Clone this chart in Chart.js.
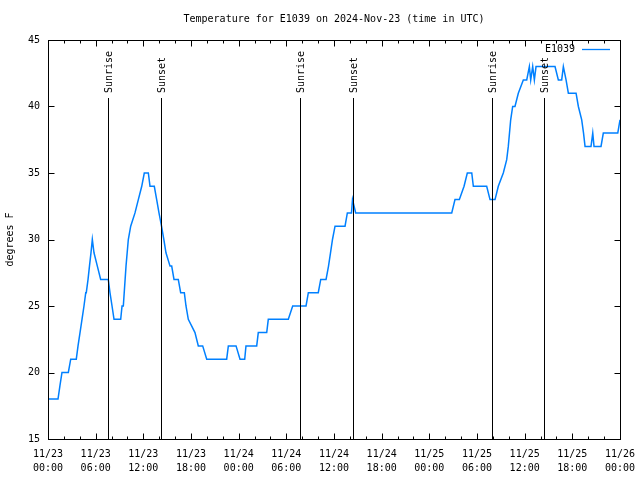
<!DOCTYPE html>
<html>
<head>
<meta charset="utf-8">
<script src="https://cdn.jsdelivr.net/npm/chart.js@4.4.1/dist/chart.umd.min.js"></script>
<style>
  html, body { margin: 0; padding: 0; background: #fff; }
  canvas { display: block; }
</style>
</head>
<body>
<canvas id="tempChart" width="640" height="480"></canvas>
<script>
// hours since 11/23 00:00 UTC, and temperature
var hours = [0, 1.26, 1.5, 1.76, 2.56, 2.86, 3.56, 3.78, 4.03, 4.28, 4.53, 4.75, 4.82, 5.04, 5.22, 5.41, 5.58, 5.79, 6.21, 6.63,
  7.59, 7.8, 8.06, 8.31, 9.15, 9.32, 9.48, 9.82, 10.11, 10.41, 10.95, 11.37, 11.8, 12.12, 12.63, 12.84, 13.38, 13.68, 13.97, 14.29,
  14.58, 14.85, 15.36, 15.57, 15.86, 16.4, 16.7, 17.16, 17.37, 17.66, 18.5, 18.92, 19.47, 19.98, 22.49, 22.7, 23.67, 24.17, 24.76, 24.92,
  26.27, 26.47, 27.53, 27.73, 30.25, 30.8, 32.48, 32.77, 34.02, 34.33, 35.0, 35.31, 35.56, 35.81, 36.13, 37.39, 37.68, 38.2, 38.33, 38.73,
  50.82, 51.23, 51.78, 52.37, 52.78, 53.34, 53.54, 55.22, 55.64, 56.27, 56.68, 57.31, 57.74, 57.94, 58.24, 58.49, 58.78, 59.2, 59.83, 60.26,
  60.59, 60.76, 61.01, 61.22, 61.43, 63.82, 64.24, 64.66, 64.87, 65.21, 65.5, 66.47, 66.76, 67.18, 67.41, 67.6, 68.35, 68.57, 68.73, 69.61,
  69.9, 71.72, 72];
var temps = [18, 18, 19, 20, 20, 21, 21, 22, 23, 24, 25, 26, 26, 27, 28, 29, 30, 29, 28, 27,
  27, 26, 25, 24, 24, 25, 25, 28, 30, 31, 32, 33, 34, 35, 35, 34, 34, 33, 32, 31,
  30, 29, 28, 28, 27, 27, 26, 26, 25, 24, 23, 22, 22, 21, 21, 22, 22, 21, 21, 22,
  22, 23, 23, 24, 24, 25, 25, 26, 26, 27, 27, 28, 29, 30, 31, 31, 32, 32, 33, 32,
  32, 33, 33, 34, 35, 35, 34, 34, 33, 33, 34, 35, 36, 37, 39, 40, 40, 41, 42, 42,
  43, 42, 43, 42, 43, 43, 42, 42, 43, 42, 41, 41, 40, 39, 38, 37, 37, 38, 37, 37,
  38, 38, 39];

var tickDays = ['11/23', '11/23', '11/23', '11/23', '11/24', '11/24', '11/24', '11/24', '11/25', '11/25', '11/25', '11/25', '11/26'];
var tickTimes = ['00:00', '06:00', '12:00', '18:00', '00:00', '06:00', '12:00', '18:00', '00:00', '06:00', '12:00', '18:00', '00:00'];

var sunrise = [7.55, 31.72, 55.89];
var sunset = [14.22, 38.39, 62.44];

var FONT = '"DejaVu Sans Mono", "Liberation Mono", monospace';

var points = hours.map(function (h, i) { return { x: h, y: temps[i] }; });

var gnuplotBits = {
  id: 'gnuplotBits',
  afterDraw: function (chart) {
    var c = chart.ctx, a = chart.chartArea;
    var xs = chart.scales.x, ys = chart.scales.y;
    c.save();
    c.strokeStyle = '#000';
    c.lineWidth = 1;

    // sunrise / sunset markers
    function marker(h, txt) {
      var px = Math.round(xs.getPixelForValue(h)) + 0.5;
      c.beginPath();
      c.moveTo(px, 98);
      c.lineTo(px, a.bottom);
      c.stroke();
      c.save();
      c.translate(px + 1, 93);
      c.rotate(-Math.PI / 2);
      c.fillStyle = '#000';
      c.font = '10px ' + FONT;
      c.textAlign = 'left';
      c.textBaseline = 'middle';
      c.fillText(txt, 0, 0);
      c.restore();
    }
    sunrise.forEach(function (h) { marker(h, 'Sunrise'); });
    sunset.forEach(function (h) { marker(h, 'Sunset'); });

    // border box
    var L = Math.round(a.left) + 0.5, R = Math.round(a.right) + 0.5;
    var T = Math.round(a.top) + 0.5, B = Math.round(a.bottom) + 0.5;
    c.strokeRect(L, T, R - L, B - T);

    // inward ticks
    c.beginPath();
    for (var v = 15; v <= 45; v += 5) {
      var py = Math.round(ys.getPixelForValue(v)) + 0.5;
      c.moveTo(L, py); c.lineTo(L + 6, py);
      c.moveTo(R, py); c.lineTo(R - 6, py);
    }
    for (var h = 0; h <= 72; h += 2) {
      var px = Math.round(xs.getPixelForValue(h)) + 0.5;
      var len = (h % 6 === 0) ? 6 : 3;
      c.moveTo(px, B); c.lineTo(px, B - len);
      c.moveTo(px, T); c.lineTo(px, T + len);
    }
    c.stroke();

    // title
    c.fillStyle = '#000';
    c.font = '10px ' + FONT;
    c.textAlign = 'center';
    c.textBaseline = 'middle';
    c.fillText('Temperature for E1039 on 2024-Nov-23 (time in UTC)', (a.left + a.right) / 2, 19);

    // y axis label
    c.save();
    c.translate(10, (a.top + a.bottom) / 2);
    c.rotate(-Math.PI / 2);
    c.fillText('degrees F', 0, 0);
    c.restore();

    // legend
    c.textAlign = 'right';
    c.fillText('E1039', 575, 49);
    c.strokeStyle = '#0080ff';
    c.lineWidth = 1.3;
    c.beginPath();
    c.moveTo(582, 49.5);
    c.lineTo(610, 49.5);
    c.stroke();
    c.restore();
  }
};

var ctx = document.getElementById('tempChart').getContext('2d');
var tempChart = new Chart(ctx, {
  type: 'line',
  data: {
    datasets: [{
      label: 'E1039',
      data: points,
      borderColor: '#0080ff',
      borderWidth: 1.5,
      pointRadius: 0,
      tension: 0,
      fill: false
    }]
  },
  options: {
    responsive: false,
    animation: false,
    layout: { padding: { top: 40, right: 20, left: 0, bottom: 0 } },
    plugins: {
      legend: { display: false },
      title: { display: false },
      tooltip: { enabled: false }
    },
    scales: {
      x: {
        type: 'linear',
        min: 0,
        max: 72,
        afterFit: function (s) {
          s.height = 41;
          s.paddingLeft = 0;
          s.paddingRight = 0;
        },
        grid: { display: false, drawTicks: false },
        border: { display: false },
        ticks: {
          stepSize: 6,
          autoSkip: false,
          maxRotation: 0,
          padding: 8,
          color: '#000',
          font: { family: FONT, size: 10, lineHeight: 1.4 },
          callback: function (v) {
            var i = Math.round(v / 6);
            return [tickDays[i], tickTimes[i]];
          }
        }
      },
      y: {
        min: 15,
        max: 45,
        afterFit: function (s) {
          s.width = 48;
          s.paddingTop = 0;
          s.paddingBottom = 0;
        },
        grid: { display: false, drawTicks: false },
        border: { display: false },
        ticks: {
          stepSize: 5,
          padding: 8,
          color: '#000',
          font: { family: FONT, size: 10 }
        }
      }
    }
  },
  plugins: [gnuplotBits]
});
</script>
</body>
</html>
